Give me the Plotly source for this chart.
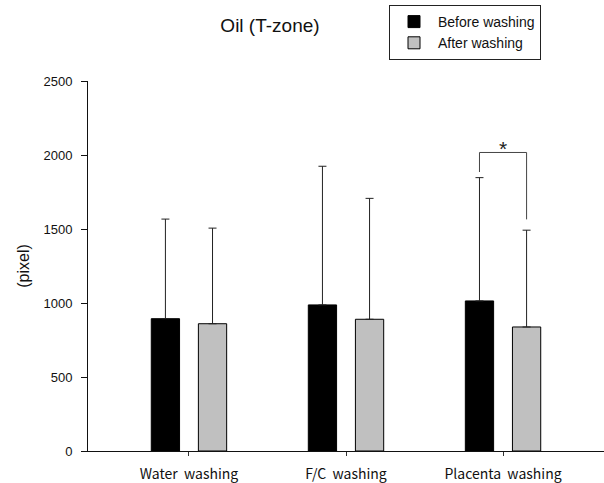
import plotly.graph_objects as go

categories = ["Water  washing", "F/C  washing", "Placenta  washing"]
before_mean = [894, 987, 1014]
before_sd = [673, 937, 833]
after_mean = [860, 890, 838]
after_sd = [646, 817, 654]
tick_vals = [0, 500, 1000, 1500, 2000, 2500]

# significance bracket (Placenta washing): level and leg ends in data units
sig_level = 2017
sig_left_end = 1885
sig_right_end = 1565

x_idx = list(range(len(categories)))
bar_w = 0.18
off = 0.15

fig = go.Figure()
fig.add_trace(go.Bar(
    name="Before washing", x=x_idx, y=before_mean, offset=-off - bar_w / 2, width=bar_w,
    marker=dict(color="#000000", line=dict(color="#000000", width=1)),
    error_y=dict(type="data", array=before_sd, arrayminus=[0] * 3, symmetric=False,
                 color="#222222", thickness=1, width=4),
))
fig.add_trace(go.Bar(
    name="After washing", x=x_idx, y=after_mean, offset=off - bar_w / 2, width=bar_w,
    marker=dict(color="#c0c0c0", line=dict(color="#000000", width=1)),
    error_y=dict(type="data", array=after_sd, arrayminus=[0] * 3, symmetric=False,
                 color="#222222", thickness=1, width=4),
))

xl = 2 - off
xr = 2 + off
fig.add_shape(type="path", xref="x", yref="y",
              path=f"M {xl},{sig_left_end} L {xl},{sig_level} L {xr},{sig_level} L {xr},{sig_right_end}",
              line=dict(color="#444444", width=1))
fig.add_annotation(x=2, y=sig_level, xref="x", yref="y", text="*", showarrow=False,
                   yanchor="bottom", yshift=-10, font=dict(size=21, color="#222222", family="Liberation Sans"))

fig.update_layout(
    width=604, height=483,
    margin=dict(l=88, r=0, t=81, b=32, autoexpand=False),
    paper_bgcolor="white", plot_bgcolor="white",
    barmode="overlay",
    font=dict(family="Liberation Sans, Arial", size=13, color="#111111"),
    title=dict(text="Oil (T-zone)", x=0.447, xanchor="center", y=1 - 25 / 483, yanchor="middle",
               font=dict(size=19, family="Liberation Sans, Arial", color="#111111")),
    showlegend=True,
    legend=dict(x=(389 - 88) / 516, y=(451 - 5) / 370, xanchor="left", yanchor="top",
                bordercolor="#222222", borderwidth=1, bgcolor="white", itemwidth=38,
                font=dict(size=14, family="Liberation Sans, Arial", color="#111111"),
                tracegroupgap=0),
    xaxis=dict(range=[-0.643, 2.643], tickvals=x_idx, ticktext=categories,
               showline=True, linecolor="#111111", linewidth=1,
               ticks="outside", ticklen=4, tickcolor="#333333", showgrid=False, zeroline=False,
               ticklabelstandoff=6,
               tickfont=dict(family="Noto Sans CJK KR", size=14, color="#111111")),
    yaxis=dict(range=[0, 2500], tickvals=tick_vals, showline=True, linecolor="#111111", linewidth=1,
               ticks="outside", ticklen=6, tickcolor="#111111", showgrid=False, zeroline=False,
               ticklabelstandoff=6,
               tickfont=dict(size=13, color="#111111"),
               title=dict(text="(pixel)", standoff=9, font=dict(size=16))),
)

fig.write_html("out.html")
